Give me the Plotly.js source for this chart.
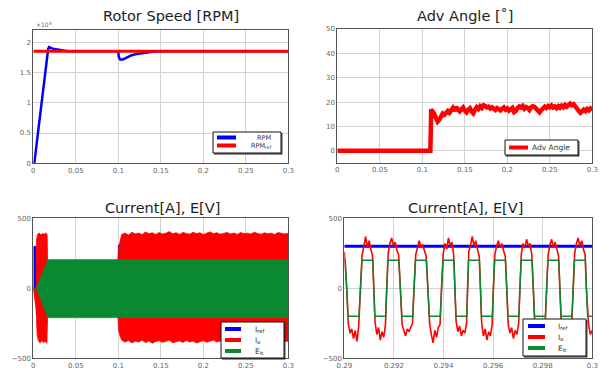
<!DOCTYPE html>
<html><head><meta charset="utf-8">
<script src="https://cdn.plot.ly/plotly-3.0.1.min.js"></script>
<style>html,body{margin:0;padding:0;background:#fff;}#chart{width:611px;height:376px;}</style>
</head><body><div id="chart"></div>
<script>
// ---------- Data ----------
// Rotor speed [RPM]
const speedT   = [0, 0.0012, 0.004, 0.008, 0.012, 0.016, 0.0175, 0.0188, 0.021, 0.025, 0.03, 0.035, 0.04, 0.1, 0.1005, 0.102, 0.104, 0.107, 0.11, 0.115, 0.12, 0.13, 0.14, 0.15, 0.3];
const speedRPM = [0, 0, 3300, 8000, 12800, 17500, 18900, 19200, 19000, 18850, 18700, 18600, 18500, 18500, 17600, 17150, 17100, 17250, 17500, 17800, 18000, 18250, 18400, 18500, 18500];
const refT     = [0, 0.3];
const refRPM   = [18500, 18500];

// Advance angle [deg]
const angleT = [0, 0.1095, 0.1105,
 0.112,0.114,0.116,0.118,0.12,0.122,0.124,0.126,0.128,0.13,0.132,0.134,0.136,0.138,0.14,0.142,0.144,0.146,0.148,0.15,
 0.152,0.154,0.156,0.158,0.16,0.162,0.164,0.166,0.168,0.17,0.172,0.174,0.176,0.178,0.18,0.182,0.184,0.186,0.188,0.19,
 0.192,0.194,0.196,0.198,0.2,0.202,0.204,0.206,0.208,0.21,0.212,0.214,0.216,0.218,0.22,0.222,0.224,0.226,0.228,0.23,
 0.232,0.234,0.236,0.238,0.24,0.242,0.244,0.246,0.248,0.25,0.252,0.254,0.256,0.258,0.26,0.262,0.264,0.266,0.268,0.27,
 0.272,0.274,0.276,0.278,0.28,0.282,0.284,0.286,0.288,0.29,0.292,0.294,0.296,0.298,0.3];
const angleDeg = [0, 0, 17.0,
 16.5,15.2,13.5,12.0,12.8,14.6,15.3,14.8,15.9,16.3,15.6,16.8,17.6,16.4,18.0,16.9,16.2,17.1,17.8,16.5,
 15.8,16.9,17.5,16.2,15.4,16.8,17.9,17.2,18.3,17.6,18.7,18.4,17.8,18.1,17.4,17.9,17.2,16.8,17.5,17.0,
 16.6,17.3,17.8,16.9,17.4,16.5,17.1,17.6,15.9,16.4,17.5,18.2,17.8,18.4,17.3,18.0,17.6,16.8,17.9,18.3,
 18.0,17.2,16.2,15.8,16.7,17.4,18.1,17.6,18.4,17.9,18.6,17.8,18.2,17.5,18.3,17.7,18.5,17.9,18.8,18.1,
 19.0,19.4,18.7,19.1,18.2,17.6,16.4,15.6,16.2,16.9,16.3,17.2,16.6,17.4,17.0];

// Current / back-EMF, full run: envelopes of the fast oscillation
const irefEnvT  = [0, 0.0033, 0.0036, 0.0995, 0.1, 0.3];
const irefEnvHi = [300, 300, 180, 180, 310, 300];
const irefEnvLo = [0, 0, -180, -180, -180, -180];

const noisyT = [0.108,0.112,0.116,0.12,0.124,0.128,0.132,0.136,0.14,0.144,0.148,0.152,0.156,0.16,0.164,0.168,0.172,0.176,0.18,0.184,
 0.188,0.192,0.196,0.2,0.204,0.208,0.212,0.216,0.22,0.224,0.228,0.232,0.236,0.24,0.244,0.248,0.252,0.256,0.26,0.264,
 0.268,0.272,0.276,0.28,0.284,0.288,0.292,0.296,0.3];
const iaHiStartT = [0, 0.0033, 0.0036, 0.005, 0.007, 0.009, 0.011, 0.013, 0.015, 0.0163, 0.0168, 0.0995, 0.1008, 0.102, 0.104];
const iaHiStart  = [0, 0, 340, 385, 395, 380, 392, 386, 396, 380, 190, 190, 300, 330, 385];
const iaHiNoisy  = [395,380,400,388,395,383,402,390,396,384,398,387,393,405,389,397,385,399,392,386,
 400,391,396,384,394,403,390,397,386,392,399,388,395,385,398,390,394,387,401,392,
 386,396,389,394,384,398,391,387,393];
const iaLoStartT = [0, 0.0033, 0.0045, 0.006, 0.008, 0.01, 0.012, 0.014, 0.016, 0.0168, 0.0995, 0.1003, 0.102, 0.104];
const iaLoStart  = [0, -150, -330, -375, -390, -372, -388, -378, -392, -190, -190, -300, -340, -370];
const iaLoNoisy  = [-385,-372,-390,-378,-384,-370,-388,-376,-392,-380,-374,-386,-379,-370,-389,-381,-375,-387,-372,-383,
 -377,-391,-380,-373,-385,-378,-370,-384,-376,-389,-381,-374,-386,-379,-371,-383,-377,-388,-380,-372,
 -384,-378,-387,-375,-382,-373,-385,-379,-376];

const ebEnvT  = [0, 0.0035, 0.017, 0.3];
const ebEnvHi = [0, 0, 205, 205];
const ebEnvLo = [0, 0, -210, -210];

// Current / back-EMF, zoom 0.29 - 0.30 s
const irefZT = [0.29, 0.3];
const irefZ  = [300, 300];
const ebZT = [0.29,0.29004, 0.29015,0.29059, 0.29071,0.29115, 0.29123,0.29167, 0.29176,0.29220, 0.29232,0.29276,
 0.29287,0.29331, 0.29343,0.29387, 0.29398,0.29442, 0.29450,0.29494, 0.29501,0.29545, 0.29553,0.29597,
 0.29606,0.29650, 0.29660,0.29704, 0.29713,0.29757, 0.29767,0.29811, 0.29821,0.29865, 0.29874,0.29918,
 0.29928,0.29972, 0.29981,0.3];
const ebZ  = [200,200, -200,-200, 200,200, -200,-200, 200,200, -200,-200,
 200,200, -200,-200, 200,200, -200,-200, 200,200, -200,-200,
 200,200, -200,-200, 200,200, -200,-200, 200,200, -200,-200,
 200,200, -200,-200];
const iaZT = [0.29, 0.29010,
 0.29016,0.29023,0.29030,0.29037,0.29044,0.29051,0.29058, 0.29065,
 0.29072,0.29079,0.29086,0.29093,0.29100,0.29107,0.29114, 0.29119,
 0.29124,0.29131,0.29138,0.29145,0.29152,0.29159,0.29166, 0.29171,
 0.29177,0.29184,0.29191,0.29198,0.29205,0.29212,0.29219, 0.29226,
 0.29233,0.29240,0.29247,0.29254,0.29261,0.29268,0.29275, 0.29281,
 0.29288,0.29295,0.29302,0.29309,0.29316,0.29323,0.29330, 0.29337,
 0.29344,0.29351,0.29358,0.29365,0.29372,0.29379,0.29386, 0.29392,
 0.29399,0.29406,0.29413,0.29420,0.29427,0.29434,0.29441, 0.29446,
 0.29451,0.29458,0.29465,0.29472,0.29479,0.29486,0.29493, 0.29497,
 0.29502,0.29509,0.29516,0.29523,0.29530,0.29537,0.29544, 0.29549,
 0.29554,0.29561,0.29568,0.29575,0.29582,0.29589,0.29596, 0.29601,
 0.29607,0.29614,0.29621,0.29628,0.29635,0.29642,0.29649, 0.29655,
 0.29661,0.29668,0.29675,0.29682,0.29689,0.29696,0.29703, 0.29708,
 0.29714,0.29721,0.29728,0.29735,0.29742,0.29749,0.29756, 0.29762,
 0.29768,0.29775,0.29782,0.29789,0.29796,0.29803,0.29810, 0.29816,
 0.29822,0.29829,0.29836,0.29843,0.29850,0.29857,0.29864, 0.29869,
 0.29875,0.29882,0.29889,0.29896,0.29903,0.29910,0.29917, 0.29923,
 0.29929,0.29936,0.29943,0.29950,0.29957,0.29964,0.29971, 0.29976,
 0.29985,0.29992,0.3];
const iaZ = [260, 0,
 -250,-320,-290,-360,-300,-380,-270, 0,
 240,300,370,290,340,280,230, 0,
 -240,-330,-280,-370,-310,-350,-260, 0,
 250,320,360,300,330,270,240, 0,
 -260,-300,-340,-290,-310,-280,-250, 0,
 240,290,340,300,310,270,230, 0,
 -250,-330,-390,-300,-350,-280,-260, 0,
 250,320,280,360,300,330,240, 0,
 -240,-310,-270,-340,-300,-320,-250, 0,
 260,310,370,300,340,280,230, 0,
 -250,-340,-290,-370,-310,-340,-260, 0,
 240,300,340,290,320,270,230, 0,
 -260,-320,-280,-360,-300,-330,-250, 0,
 250,320,290,350,300,320,240, 0,
 -250,-310,-280,-330,-290,-310,-250, 0,
 240,310,350,290,330,280,230, 0,
 -250,-320,-290,-350,-300,-330,-260, 0,
 250,320,360,300,340,280,240, 0,
 -260,-330,-300];

// Tick labels, titles and legend labels (main text + subscript)
const xTicksFull = [0, 0.05, 0.1, 0.15, 0.2, 0.25, 0.3];
const xTickTextFull = ['0','0.05','0.1','0.15','0.2','0.25','0.3'];
const xTicksZoom = [0.29, 0.292, 0.294, 0.296, 0.298, 0.3];
const xTickTextZoom = ['0.29','0.292','0.294','0.296','0.298','0.3'];
const rpmTicks = [0, 5000, 10000, 15000, 20000];
const rpmTickText = ['0','0.5','1','1.5','2'];
const angleTicks = [0, 10, 20, 30, 40, 50];
const currTicks = [-500, 0, 500];
const titles = ['Rotor Speed [RPM]', 'Adv Angle [˚]', 'Current[A], E[V]', 'Current[A], E[V]'];
const legSpeed = [['RPM', ''], ['RPM', 'ref']];
const legAngle = [['Adv Angle', '']];
const legCurr = [['I', 'ref'], ['I', 'a'], ['E', 'b']];
const scaleText = ['×10', '4'];

const BLUE = '#0000ff', RED = '#ff0000', GREEN = '#0a8a30';

// ---------- Build ----------
const W = 611, H = 376;
const px = x => x / W;
const py = y => 1 - y / H;
const FONT = 'DejaVu Sans, sans-serif';
// approximate DejaVu Sans advance widths (em) for placing subscripts
const EM = {'I':0.295, 'E':0.632, 'R':0.695, 'P':0.603, 'M':0.863, '×':0.838, '1':0.636, '0':0.636};
const textW = (s, size) => s.split('').reduce((a, c) => a + (EM[c] || 0.6), 0) * size;

const traces = [
  {x: speedT, y: speedRPM, xaxis:'x', yaxis:'y', mode:'lines', line:{color:BLUE, width:2.5}, name:'RPM'},
  {x: refT, y: refRPM, xaxis:'x', yaxis:'y', mode:'lines', line:{color:RED, width:3}, name:'RPM_ref'},
  {x: angleT, y: angleDeg, xaxis:'x2', yaxis:'y2', mode:'lines', line:{color:RED, width:4.5}, name:'Adv Angle'},
  // full-run envelopes
  {x: irefEnvT, y: irefEnvLo, xaxis:'x3', yaxis:'y3', mode:'lines', line:{color:BLUE, width:0.5}},
  {x: irefEnvT, y: irefEnvHi, xaxis:'x3', yaxis:'y3', mode:'lines', fill:'tonexty', fillcolor:BLUE, line:{color:BLUE, width:0.5}},
  {x: iaLoStartT.concat(noisyT), y: iaLoStart.concat(iaLoNoisy), xaxis:'x3', yaxis:'y3', mode:'lines', line:{color:RED, width:0.8}},
  {x: iaHiStartT.concat(noisyT), y: iaHiStart.concat(iaHiNoisy), xaxis:'x3', yaxis:'y3', mode:'lines', fill:'tonexty', fillcolor:RED, line:{color:RED, width:0.8}},
  {x: ebEnvT, y: ebEnvLo, xaxis:'x3', yaxis:'y3', mode:'lines', line:{color:GREEN, width:0.5}},
  {x: ebEnvT, y: ebEnvHi, xaxis:'x3', yaxis:'y3', mode:'lines', fill:'tonexty', fillcolor:GREEN, line:{color:GREEN, width:0.5}},
  // zoomed waveforms
  {x: irefZT, y: irefZ, xaxis:'x4', yaxis:'y4', mode:'lines', line:{color:BLUE, width:3}},
  {x: iaZT, y: iaZ, xaxis:'x4', yaxis:'y4', mode:'lines', line:{color:RED, width:1.6}},
  {x: ebZT, y: ebZ, xaxis:'x4', yaxis:'y4', mode:'lines', line:{color:GREEN, width:1.4}}
];

const tickFont = {family:FONT, size:7, color:'#666'};
function ax(extra) {
  return Object.assign({
    showline:true, mirror:true, linecolor:'#555', linewidth:1,
    showgrid:true, gridcolor:'#d2d2d2', gridwidth:1, zeroline:false,
    ticks:'', tickfont:tickFont, fixedrange:true
  }, extra);
}

const annotations = [];
const shapes = [];
function label(text, x, y, size, color, anchor) {
  annotations.push({text:text, xref:'paper', yref:'paper', x:px(x), y:py(y), xanchor:anchor || 'left', yanchor:'middle',
    showarrow:false, font:{family:FONT, size:size, color:color}});
}
const titlePos = [[171, 16], [465, 16], [162, 208], [465, 208]];
titles.forEach((t, i) => label(t, titlePos[i][0], titlePos[i][1], 14.5, '#222', 'center'));
label(scaleText[0], 34, 25, 6, '#666');
label(scaleText[1], 34 + textW(scaleText[0], 6), 23, 4.5, '#666');

// custom compact legends (MATLAB style)
function legend(box, rows, labels, colors, sx0, sx1, txs, fsize) {
  shapes.push({type:'rect', xref:'paper', yref:'paper', x0:px(box[0]), x1:px(box[2]), y0:py(box[3]), y1:py(box[1]),
    fillcolor:'#fff', line:{color:'#111', width:1}, layer:'above'});
  shapes.push({type:'path', xref:'paper', yref:'paper',
    path:'M' + px(box[2] + 0.8) + ',' + py(box[1] + 1) + ' L' + px(box[2] + 0.8) + ',' + py(box[3] + 0.8) + ' L' + px(box[0] + 1) + ',' + py(box[3] + 0.8),
    line:{color:'#222', width:1.2}, layer:'above'});
  labels.forEach((lab, i) => {
    shapes.push({type:'line', xref:'paper', yref:'paper', x0:px(sx0), x1:px(sx1), y0:py(rows[i]), y1:py(rows[i]),
      line:{color:colors[i], width:4}, layer:'above'});
    label(lab[0], txs[i], rows[i], fsize, '#333');
    if (lab[1]) label(lab[1], txs[i] + textW(lab[0], fsize), rows[i] + 1.6, fsize * 0.72, '#333');
  });
}
legend([213,132,281,153], [137.5,145.5], legSpeed, [BLUE, RED], 217, 236, [255, 249], 6.5);
legend([505,140,578,155], [147.5], legAngle, [RED], 509, 528, [530], 7.5);
legend([221,322,284,358], [329,340,351], legCurr, [BLUE, RED, GREEN], 225, 241, [253, 253, 253], 7.5);
legend([523,319,586,356], [326,337,348], legCurr, [BLUE, RED, GREEN], 528, 545, [556, 556, 556], 7.5);

const layout = {
  width: W, height: H, autosize:false,
  margin:{l:0, r:0, t:0, b:0, pad:0},
  paper_bgcolor:'#fff', plot_bgcolor:'#fff', showlegend:false,
  xaxis:  ax({domain:[px(33.3), px(288.3)], anchor:'y', range:[0,0.3], tickvals:xTicksFull, ticktext:xTickTextFull}),
  yaxis:  ax({domain:[py(163.3), py(30)], anchor:'x', range:[0,22000], tickvals:rpmTicks, ticktext:rpmTickText}),
  xaxis2: ax({domain:[px(337.3), px(592.3)], anchor:'y2', range:[0,0.3], tickvals:xTicksFull, ticktext:xTickTextFull}),
  yaxis2: ax({domain:[py(163), py(29)], anchor:'x2', range:[-5,50], tickvals:angleTicks}),
  xaxis3: ax({domain:[px(33.3), px(288.3)], anchor:'y3', range:[0,0.3], tickvals:xTicksFull, ticktext:xTickTextFull}),
  yaxis3: ax({domain:[py(358.3), py(218.3)], anchor:'x3', range:[-500,500], tickvals:currTicks}),
  xaxis4: ax({domain:[px(344.3), px(592.3)], anchor:'y4', range:[0.29,0.3], tickvals:xTicksZoom, ticktext:xTickTextZoom}),
  yaxis4: ax({domain:[py(358.3), py(218.3)], anchor:'x4', range:[-500,500], tickvals:currTicks}),
  annotations: annotations,
  shapes: shapes
};

Plotly.newPlot('chart', traces, layout, {displayModeBar:false, staticPlot:true});
</script></body></html>
